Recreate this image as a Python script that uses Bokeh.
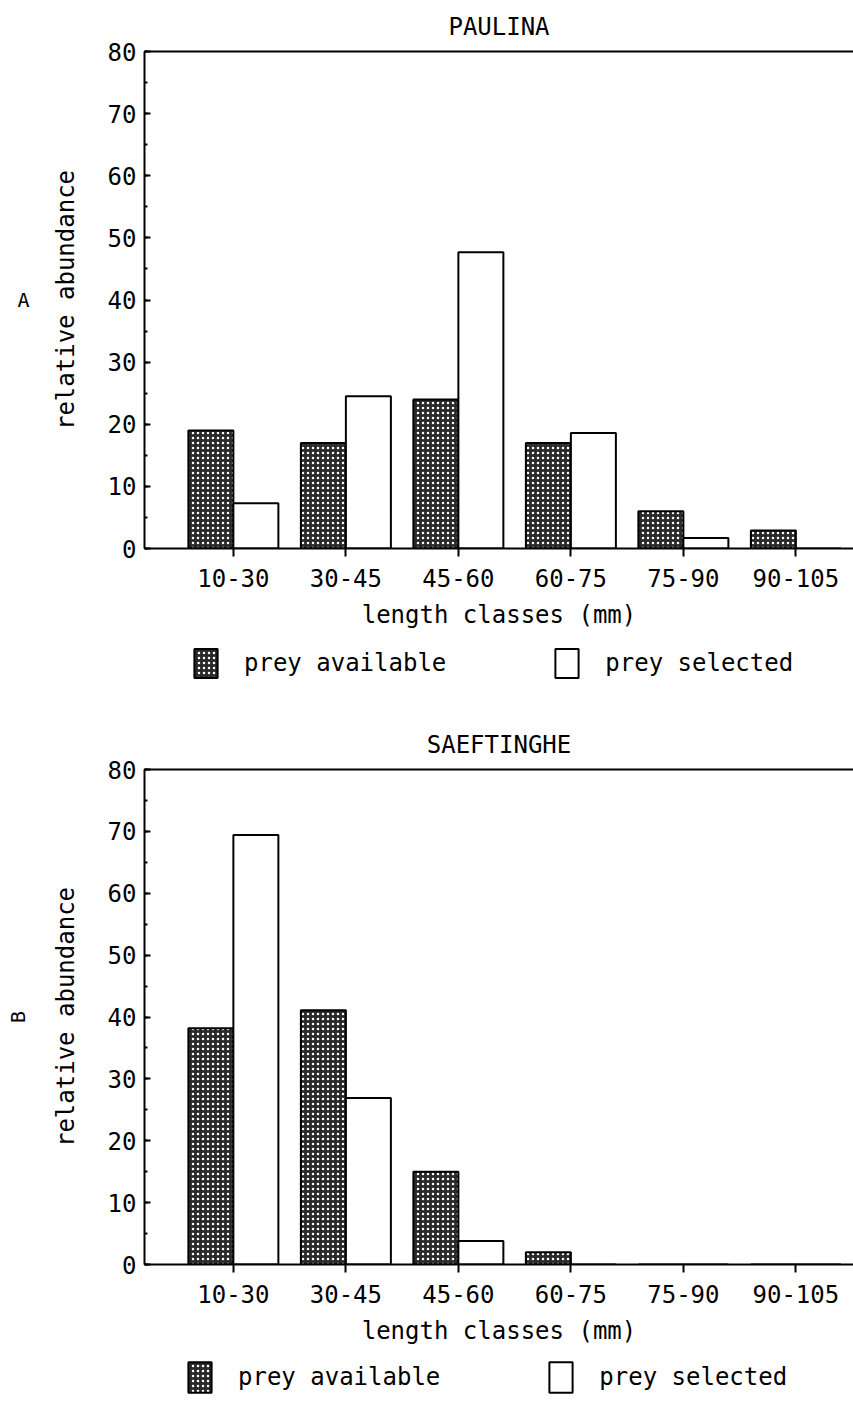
import numpy as np
from bokeh.plotting import figure
from bokeh.models import (Range1d, LinearAxis, FixedTicker, SingleIntervalTicker,
                          Legend, LegendItem, ColumnDataSource)
from bokeh.layouts import column
from bokeh.embed import file_html
from bokeh.resources import INLINE

# ---------------- data ----------------
classes = ["10-30", "30-45", "45-60", "60-75", "75-90", "90-105"]
paulina_available = [19.0, 17.0, 24.0, 17.0, 6.0, 2.9]
paulina_selected = [7.3, 24.5, 47.7, 18.6, 1.7, 0.0]
saeftinghe_available = [38.2, 41.1, 15.0, 2.0, 0.0, 0.0]
saeftinghe_selected = [69.4, 26.9, 3.8, 0.0, 0.0, 0.0]
y_min, y_max, y_step = 0, 80, 10
x_label = "length classes (mm)"
y_label = "relative abundance"
legend_labels = ["prey available", "prey selected"]

FONT = "DejaVu Sans Mono"
W = 853
LEFT = 144
PX_PER_CLASS = 112.5
X0 = -0.79

AV_STYLE = dict(fill_color="#2a2a2a", line_color="black", line_width=2,
                hatch_pattern="dot", hatch_color="white", hatch_scale=5, hatch_weight=1.5)
SE_STYLE = dict(fill_color="white", line_color="black", line_width=2)


def make_source(available, selected):
    idx = np.arange(len(classes))
    return ColumnDataSource(dict(xa=idx - 0.2, xs=idx + 0.2, av=available, se=selected))


def panel(title, letter, letter_orient, src, height, top, bottom):
    frame_w = W - LEFT
    p = figure(width=W, height=height, output_backend="svg", toolbar_location=None,
               x_range=Range1d(X0, X0 + frame_w / PX_PER_CLASS),
               y_range=Range1d(y_min, y_max),
               min_border_left=LEFT, min_border_right=0,
               min_border_top=top, min_border_bottom=bottom,
               tools="", title=title)
    p.grid.visible = False
    p.outline_line_color = None
    p.background_fill_color = "white"
    p.border_fill_color = "white"

    p.title.align = "center"
    p.title.text_font = FONT
    p.title.text_font_size = "24px"
    p.title.text_font_style = "normal"
    p.title.text_color = "black"
    p.title.standoff = 21

    p.vbar(x="xa", top="av", bottom=0, width=0.4, source=src, **AV_STYLE)
    p.vbar(x="xs", top="se", bottom=0, width=0.4, source=src, **SE_STYLE)

    idx = list(range(len(classes)))
    # x axis
    xa = p.xaxis[0]
    xa.ticker = FixedTicker(ticks=idx)
    xa.major_label_overrides = {i: c for i, c in zip(idx, classes)}
    xa.minor_tick_line_color = None
    xa.major_tick_in = 0
    xa.major_tick_out = 8
    xa.major_tick_line_width = 2
    xa.axis_line_width = 2
    xa.major_label_standoff = 12
    xa.major_label_text_font = FONT
    xa.major_label_text_font_size = "24px"
    xa.major_label_text_color = "black"
    xa.axis_label = x_label
    xa.axis_label_text_font = FONT
    xa.axis_label_text_font_size = "24px"
    xa.axis_label_text_font_style = "normal"
    xa.axis_label_text_color = "black"
    xa.axis_label_standoff = 11

    # y axis
    ya = p.yaxis[0]
    ya.ticker = SingleIntervalTicker(interval=y_step, num_minor_ticks=2)
    ya.major_tick_in = 6
    ya.major_tick_out = 0
    ya.minor_tick_in = 3
    ya.minor_tick_out = 0
    ya.major_tick_line_width = 2
    ya.minor_tick_line_width = 2
    ya.axis_line_width = 2
    ya.major_label_standoff = 8
    ya.major_label_text_font = FONT
    ya.major_label_text_font_size = "24px"
    ya.major_label_text_color = "black"
    ya.axis_label = y_label
    ya.axis_label_text_font = FONT
    ya.axis_label_text_font_size = "24px"
    ya.axis_label_text_font_style = "normal"
    ya.axis_label_text_color = "black"
    ya.axis_label_standoff = 25

    # panel letter as an outer, tick-less axis label
    letter_axis = LinearAxis(ticker=FixedTicker(ticks=[]), axis_line_color=None,
                             major_tick_line_color=None, minor_tick_line_color=None,
                             major_label_text_font_size="0px",
                             axis_label=letter, axis_label_orientation=letter_orient,
                             axis_label_text_font=FONT, axis_label_text_font_size="20px",
                             axis_label_text_font_style="normal",
                             axis_label_text_color="black", axis_label_standoff=19)
    p.add_layout(letter_axis, "left")

    # top frame line
    top_axis = LinearAxis(ticker=FixedTicker(ticks=[]), axis_line_width=2,
                          major_tick_line_color=None, minor_tick_line_color=None,
                          major_label_text_font_size="0px")
    p.add_layout(top_axis, "above")
    return p


def legend_strip(src, height, x, top_offset, glyph_h):
    # legend-only strip: hidden renderers that share the panel's data
    q = figure(width=W, height=height, output_backend="svg", toolbar_location=None,
               x_range=Range1d(X0, X0 + (W - LEFT) / PX_PER_CLASS),
               y_range=Range1d(1000, 1001),
               x_axis_location=None, y_axis_location=None, tools="",
               min_border_left=LEFT, min_border_right=0, min_border_top=0, min_border_bottom=0)
    q.grid.visible = False
    q.outline_line_color = None
    q.border_fill_color = "white"
    r_av = q.vbar(x="xa", top="av", bottom=0, width=0.4, source=src, visible=False, **AV_STYLE)
    r_se = q.vbar(x="xs", top="se", bottom=0, width=0.4, source=src, visible=False, **SE_STYLE)
    legend = Legend(items=[LegendItem(label=legend_labels[0], renderers=[r_av]),
                           LegendItem(label=legend_labels[1], renderers=[r_se])],
                    location=(x - LEFT, height - top_offset - glyph_h), orientation="horizontal",
                    padding=0, margin=0, spacing=106, glyph_width=29, glyph_height=glyph_h,
                    label_height=glyph_h, label_standoff=24, label_text_font=FONT,
                    label_text_font_size="24px", label_text_color="black",
                    border_line_color=None, background_fill_alpha=0,
                    inactive_fill_alpha=0, click_policy="none")
    q.add_layout(legend)
    return q


src1 = make_source(paulina_available, paulina_selected)
src2 = make_source(saeftinghe_available, saeftinghe_selected)

p1 = panel("PAULINA", "A", "horizontal", src1, 640, 51, 92)
l1 = legend_strip(src1, 61, 191, 5, 36)
p2 = panel("SAEFTINGHE", "B", "parallel", src2, 655, 68, 92)
l2 = legend_strip(src2, 46, 185, 2, 38)

layout = column(p1, l1, p2, l2, spacing=0)
open("out.html", "w").write(file_html(layout, INLINE))
